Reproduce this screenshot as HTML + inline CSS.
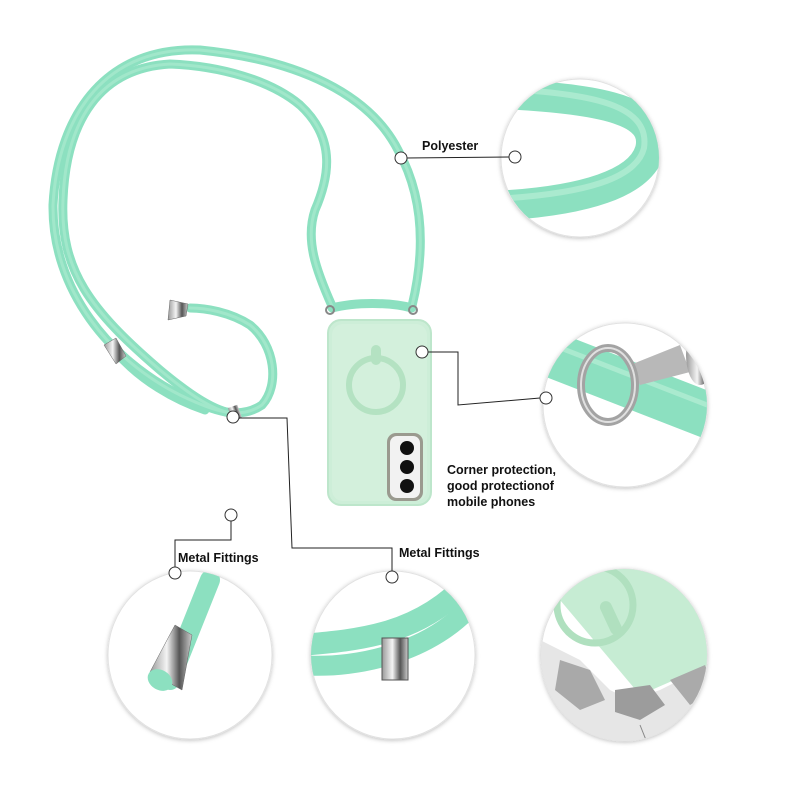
<!DOCTYPE html>
<html><head><meta charset="utf-8"><style>
html,body{margin:0;padding:0;background:#fff;}
svg{display:block}
text{font-family:"Liberation Sans",sans-serif;font-weight:bold;font-size:12.5px;fill:#111}
</style></head><body>
<svg width="800" height="800" viewBox="0 0 800 800" xmlns="http://www.w3.org/2000/svg">
<defs>
<filter id="sh" x="-20%" y="-20%" width="140%" height="140%"><feDropShadow dx="0" dy="1" stdDeviation="2" flood-color="#000" flood-opacity="0.25"/></filter>
<clipPath id="c1"><circle cx="580" cy="158" r="79"/></clipPath>
<clipPath id="c2"><circle cx="625" cy="405" r="82"/></clipPath>
<clipPath id="c3"><ellipse cx="190" cy="655" rx="82" ry="84"/></clipPath>
<clipPath id="c4"><ellipse cx="393" cy="655" rx="82" ry="84"/></clipPath>
<clipPath id="c5"><ellipse cx="624" cy="655" rx="83" ry="86"/></clipPath>
<linearGradient id="met" x1="0" x2="1"><stop offset="0" stop-color="#999"/><stop offset="0.4" stop-color="#f4f4f4"/><stop offset="0.7" stop-color="#555"/><stop offset="1" stop-color="#ccc"/></linearGradient>
</defs>

<!-- lanyard -->
<g fill="none" stroke-linecap="round">
<g stroke="#8ce0c0" stroke-width="9">
<path d="M412,306 C428,240 420,190 398,150 C370,95 300,60 200,50 C110,46 58,110 53,205 C52,290 110,360 180,395 C215,412 240,420 262,405 C280,385 275,345 250,325 C230,312 205,308 190,308"/>
<path d="M332,306 C316,270 305,240 315,210 C328,180 338,140 300,105 C270,80 220,66 170,64 C100,68 66,120 63,200 C60,270 90,310 160,370 C190,395 215,412 236,414"/>
<path d="M332,308 C355,302 390,302 412,308"/>
<path d="M116,352 C140,380 175,400 205,410"/>
</g>
<g stroke="#aaeacf" stroke-width="3" opacity="0.7">
<path d="M412,306 C428,240 420,190 398,150 C370,95 300,60 200,50 C110,46 58,110 53,205 C52,290 110,360 180,395 C215,412 240,420 262,405 C280,385 275,345 250,325 C230,312 205,308 190,308"/>
<path d="M332,306 C316,270 305,240 315,210 C328,180 338,140 300,105 C270,80 220,66 170,64 C100,68 66,120 63,200 C60,270 90,310 160,370 C190,395 215,412 236,414"/>
</g>
</g>
<polygon points="170,300 188,304 186,316 168,320" fill="url(#met)" stroke="#666" stroke-width="0.5"/>
<polygon points="104,345 116,338 126,356 116,364" fill="url(#met)" stroke="#666" stroke-width="0.5"/>
<rect x="230" y="406" width="10" height="14" fill="url(#met)" transform="rotate(-20 235 413)"/>
<circle cx="330" cy="310" r="4" fill="none" stroke="#888" stroke-width="2"/>
<circle cx="413" cy="310" r="4" fill="none" stroke="#888" stroke-width="2"/>

<!-- phone -->
<rect x="328" y="320" width="103" height="185" rx="13" fill="#cdeed8" stroke="#bde6cb" stroke-width="2"/>
<rect x="332" y="324" width="95" height="177" rx="11" fill="#d3f0dc"/>
<circle cx="376" cy="385" r="27" fill="none" stroke="#b4e2c2" stroke-width="6"/>
<rect x="371" y="345" width="10" height="20" rx="5" fill="#b4e2c2"/>
<rect x="387" y="433" width="36" height="68" rx="9" fill="#9a9a8f"/>
<rect x="390" y="436" width="30" height="62" rx="7" fill="#f2f2f2"/>
<circle cx="407" cy="448" r="7" fill="#111"/><circle cx="407" cy="467" r="7" fill="#111"/><circle cx="407" cy="486" r="7" fill="#111"/>

<!-- circle 1 -->
<circle cx="580" cy="158" r="79" fill="#fff" stroke="#e2e2e2" filter="url(#sh)"/>
<g clip-path="url(#c1)" fill="none" stroke-linecap="round">
<path d="M520,95 C600,100 660,110 650,150 C640,185 580,200 510,205" stroke="#8ce0c0" stroke-width="30"/>
<path d="M520,90 C600,95 650,108 644,148 C636,180 580,193 510,198" stroke="#aaeacf" stroke-width="6"/>
</g>
<!-- circle 2 -->
<circle cx="625" cy="405" r="82" fill="#fff" stroke="#e2e2e2" filter="url(#sh)"/>
<g clip-path="url(#c2)">
<path d="M540,350 L720,420" stroke="#8ce0c0" stroke-width="46" fill="none"/>
<path d="M540,340 L720,410" stroke="#aaeacf" stroke-width="5" fill="none"/>
<path d="M630,365 L680,345 L690,372 L640,385 Z" fill="#b8b8b8"/>
<ellipse cx="700" cy="355" rx="14" ry="30" fill="url(#met)"/>
<ellipse cx="608" cy="385" rx="27" ry="37" fill="none" stroke="#a3a3a3" stroke-width="8"/>
<ellipse cx="608" cy="385" rx="27" ry="37" fill="none" stroke="#e0e0e0" stroke-width="2"/>
</g>
<!-- circle 3 -->
<ellipse cx="190" cy="655" rx="82" ry="84" fill="#fff" stroke="#e2e2e2" filter="url(#sh)"/>
<g clip-path="url(#c3)">
<path d="M210,580 L170,680" stroke="#8ce0c0" stroke-width="20" stroke-linecap="round"/>
<polygon points="175,625 192,635 182,690 150,672" fill="url(#met)" stroke="#666" stroke-width="0.5"/>
<ellipse cx="160" cy="680" rx="13" ry="10" fill="#8ce0c0" transform="rotate(30 160 680)"/>
</g>
<!-- circle 4 -->
<ellipse cx="393" cy="655" rx="82" ry="84" fill="#fff" stroke="#e2e2e2" filter="url(#sh)"/>
<g clip-path="url(#c4)" fill="none">
<path d="M300,645 C360,640 420,635 470,580" stroke="#8ce0c0" stroke-width="22"/>
<path d="M300,665 C360,670 440,650 480,595" stroke="#8ce0c0" stroke-width="20"/>
<rect x="382" y="638" width="26" height="42" fill="url(#met)" stroke="#555" stroke-width="1"/>
</g>
<!-- circle 5 -->
<ellipse cx="624" cy="655" rx="83" ry="86" fill="#fff" stroke="#e2e2e2" filter="url(#sh)"/>
<g clip-path="url(#c5)">
<polygon points="545,560 720,560 720,660 640,695 560,600" fill="#c6ecd3"/>
<circle cx="595" cy="605" r="38" fill="none" stroke="#b0e0bf" stroke-width="7"/>
<rect x="605" y="600" width="12" height="36" rx="6" fill="#b0e0bf" transform="rotate(-25 611 618)"/>
<polygon points="540,640 580,660 610,690 630,700 660,690 700,670 720,660 720,760 540,760" fill="#e6e6e6"/>
<polygon points="560,660 590,670 605,700 580,710 555,690" fill="#a9a9a9"/>
<polygon points="615,690 650,685 665,705 640,720 615,712" fill="#9c9c9c"/>
<polygon points="670,680 705,665 715,690 690,705" fill="#aaa"/>
<path d="M560,720 L590,735 L600,760 M640,725 L650,750 M690,710 L700,740" stroke="#888" fill="none"/>
</g>

<!-- connectors (on top) -->
<g fill="none" stroke="#222" stroke-width="1">
<path d="M406,158 L509,157"/>
<path d="M428,352 L458,352 L458,405 L540,398"/>
<path d="M239,418 L287,418 L292,548 L392,548 L392,571"/>
<path d="M231,521 L231,540 L175,540 L175,567"/>
</g>
<g fill="#fff" stroke="#333" stroke-width="1">
<circle cx="401" cy="158" r="6"/><circle cx="515" cy="157" r="6"/>
<circle cx="422" cy="352" r="6"/><circle cx="546" cy="398" r="6"/>
<circle cx="233" cy="417" r="6"/><circle cx="392" cy="577" r="6"/>
<circle cx="231" cy="515" r="6"/><circle cx="175" cy="573" r="6"/>
</g>
<text x="422" y="150">Polyester</text>
<text x="447" y="474">Corner protection,</text>
<text x="447" y="490">good protectionof</text>
<text x="447" y="506">mobile phones</text>
<text x="178" y="562">Metal Fittings</text>
<text x="399" y="557">Metal Fittings</text>
</svg>
</body></html>
